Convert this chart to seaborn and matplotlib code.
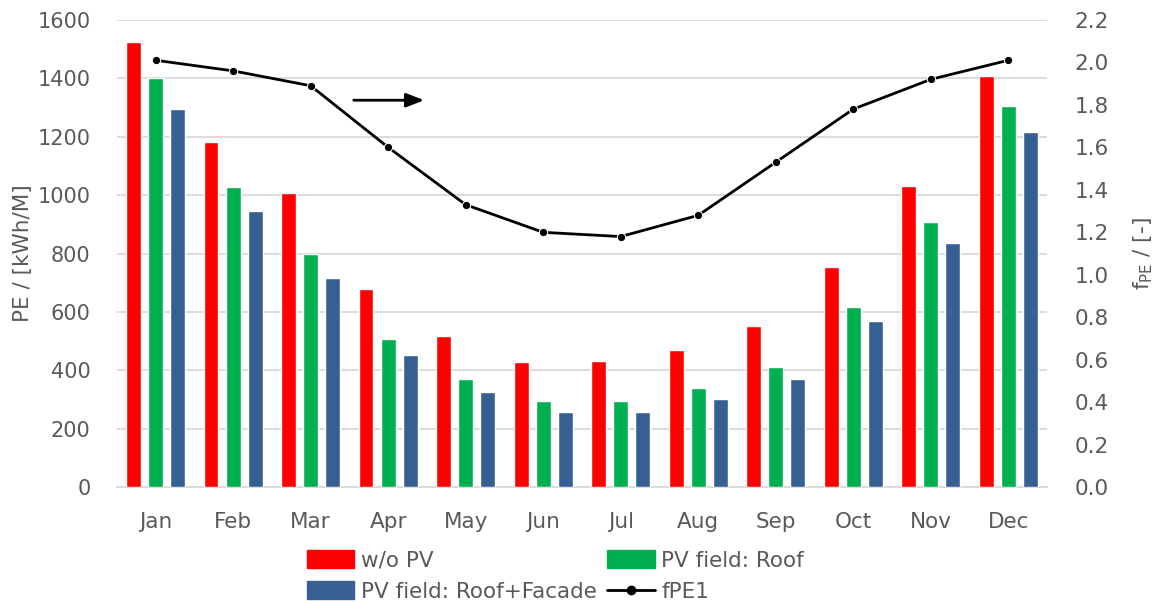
import numpy as np
import pandas as pd
import matplotlib
matplotlib.use("Agg")
import matplotlib.pyplot as plt
import seaborn as sns
from matplotlib.patches import Patch
from matplotlib.lines import Line2D

months = ["Jan", "Feb", "Mar", "Apr", "May", "Jun", "Jul", "Aug", "Sep", "Oct", "Nov", "Dec"]
pe_no_pv = [1524, 1182, 1007, 677, 517, 428, 432, 471, 551, 754, 1031, 1407]
pe_roof = [1400, 1028, 798, 506, 370, 294, 294, 339, 411, 617, 909, 1305]
pe_roof_facade = [1296, 946, 716, 452, 325, 258, 258, 303, 371, 569, 836, 1216]
fpe1 = [2.01, 1.96, 1.89, 1.60, 1.33, 1.20, 1.18, 1.28, 1.53, 1.78, 1.92, 2.01]

series_names = ["w/o PV", "PV field: Roof", "PV field: Roof+Facade"]
colors = ["#FF0000", "#00B050", "#376092"]
grey = "#595959"
fs = 15.5

df = pd.DataFrame({
    "month": months * 3,
    "series": np.repeat(series_names, len(months)),
    "PE": pe_no_pv + pe_roof + pe_roof_facade,
})

sns.set_theme(style="white")
plt.rcParams["font.family"] = ["DejaVu Sans"]

fig, ax = plt.subplots(figsize=(11.57, 6.03), dpi=100)
fig.subplots_adjust(left=0.101, right=0.905, top=0.967, bottom=0.192)

sns.barplot(data=df, x="month", y="PE", hue="series", order=months,
            hue_order=series_names, palette=colors, width=0.855, gap=0.33,
            saturation=1, legend=False, ax=ax, zorder=3)

ax.set_xlim(-0.5, 11.5)
ax.set_ylim(0, 1600)
ax.set_yticks(np.arange(0, 1601, 200))
ax.yaxis.grid(True, color="#D9D9D9", linewidth=1.3, zorder=0)
ax.set_axisbelow(True)
for s in ["top", "left", "right"]:
    ax.spines[s].set_visible(False)
ax.spines["bottom"].set_color("#D9D9D9")
ax.spines["bottom"].set_linewidth(1.3)
ax.tick_params(axis="y", colors=grey, labelsize=15, length=0, pad=19)
ax.tick_params(axis="x", colors=grey, labelsize=fs, length=0, pad=18)
ax.set_xlabel("")
ax.set_ylabel("PE / [kWh/M]", color=grey, fontsize=fs, labelpad=3)

ax2 = ax.twinx()
sns.lineplot(x=np.arange(len(months)), y=fpe1, ax=ax2, color="black",
             marker="o", markersize=6, linewidth=2, zorder=5)
ax2.set_ylim(0, 2.2)
ax2.set_yticks(np.round(np.arange(0, 2.21, 0.2), 1))
ax2.set_yticklabels([f"{v:.1f}" for v in np.arange(0, 2.21, 0.2)])
ax2.tick_params(axis="y", colors=grey, labelsize=fs, length=0, pad=20)
for s in ["top", "left", "right", "bottom"]:
    ax2.spines[s].set_visible(False)
ax2.set_ylabel("f$_{\\mathregular{PE}}$ / [-]", color=grey, fontsize=fs, labelpad=16)

# arrow pointing to the right-hand axis used by the line
ax.annotate("", xy=(3.5, 1325), xytext=(2.52, 1325),
            arrowprops=dict(arrowstyle="-|>,head_length=0.9,head_width=0.35",
                            color="black", lw=2))

handles = [Patch(color=colors[0]), Patch(color=colors[2]),
           Patch(color=colors[1]),
           Line2D([0], [0], color="black", marker="o", markersize=6, linewidth=2)]
labels = [series_names[0], series_names[2], series_names[1], "fPE1"]
fig.legend(handles, labels, ncol=2, loc="lower center",
           bbox_to_anchor=(0.48, -0.03), frameon=False, fontsize=fs,
           labelcolor=grey, handlelength=2.2, handleheight=0.9,
           handletextpad=0.3, columnspacing=0.5, labelspacing=0.5)

fig.savefig("out.png", dpi=100)
